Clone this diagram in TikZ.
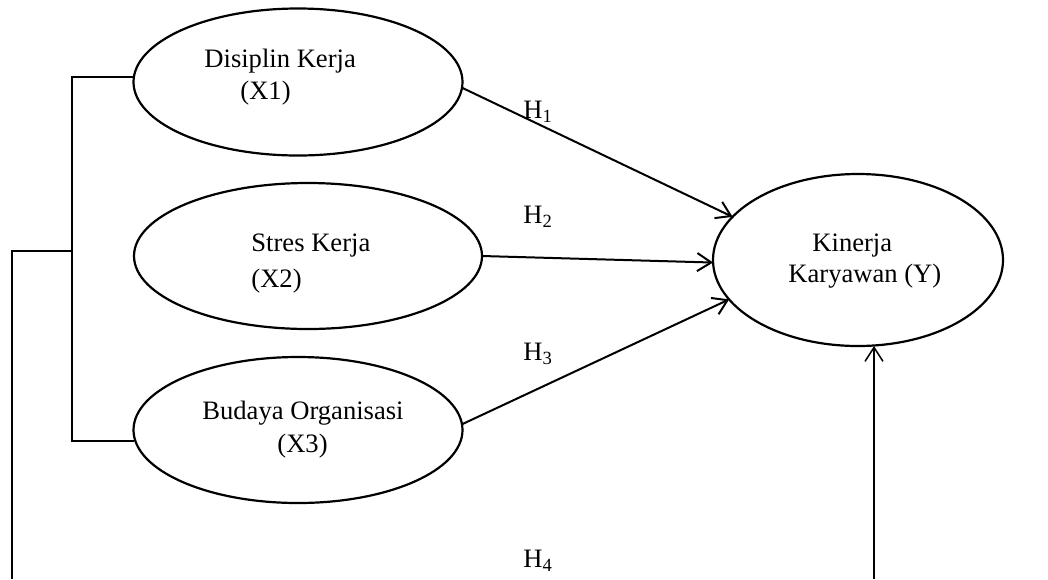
\documentclass[tikz,border=0pt]{standalone}
\usepackage{fontspec}
\setmainfont{Liberation Serif}
\usetikzlibrary{shapes.geometric,arrows.meta}
\begin{document}
\begin{tikzpicture}[x=0.5pt,y=-0.5pt,
  var/.style={ellipse,draw,line width=1.1pt,inner sep=0pt,outer sep=0pt},
  lbl/.style={anchor=base west,inner sep=0pt,font=\fontsize{13.3}{16}\selectfont},
  hyp/.style={anchor=base west,inner sep=0pt,font=\fontsize{13.3}{16}\selectfont},
  path/.style={line width=1pt,-{Straight Barb[length=7pt,width=9pt,line width=1pt]}},
  brk/.style={line width=0.6pt}]
\useasboundingbox (0,0) rectangle (1048,579);
% ellipses
\node[var,minimum width=164.5pt,minimum height=73.5pt] (x1) at (298,82) {};
\node[var,minimum width=174pt,minimum height=73pt] (x2) at (308,256) {};
\node[var,minimum width=164.5pt,minimum height=73pt] (x3) at (298,430) {};
\node[var,minimum width=145pt,minimum height=86pt] (y) at (858,260) {};
% texts
\node[lbl] (t1a) at (204,67) {Disiplin Kerja};
\node[lbl] (t1b) at (240,99) {(X1)};
\node[lbl] (t2a) at (251,251) {Stres Kerja};
\node[lbl] (t2b) at (251,287) {(X2)};
\node[lbl] (t3a) at (202,419) {Budaya Organisasi};
\node[lbl] (t3b) at (277,452) {(X3)};
\node[lbl] (tya) at (812,251) {Kinerja};
\node[lbl] (tyb) at (788,282) {Karyawan (Y)};
% hypothesis labels
\node[hyp] (h1) at (523,118) {H\textsubscript{1}};
\node[hyp] (h2) at (523,223) {H\textsubscript{2}};
\node[hyp] (h3) at (523,360) {H\textsubscript{3}};
\node[hyp] (h4) at (523,567) {H\textsubscript{4}};
% arrows
\draw[path] (x1.358) -- (y.161);
\draw[path] (x2.east) -- (y.181);
\draw[path] (x3.2) -- (y.197);
% bracket
\coordinate (b1) at (72,77);
\coordinate (b3) at (72,441);
\coordinate (bm) at (72,251);
\coordinate (bo) at (12,251);
\coordinate (bb) at (12,579);
\coordinate (yb) at (874,579);
\draw[brk] (b1 -| x1.west) -- (b1) -- (b3) -- (b3 -| x3.west);
\draw[brk] (bm) -- (bo) -- (bb);
\draw[line width=0.75pt,-{Straight Barb[length=7pt,width=9pt,line width=0.75pt]}] (yb) -- (yb |- y.south);
\end{tikzpicture}
\end{document}
